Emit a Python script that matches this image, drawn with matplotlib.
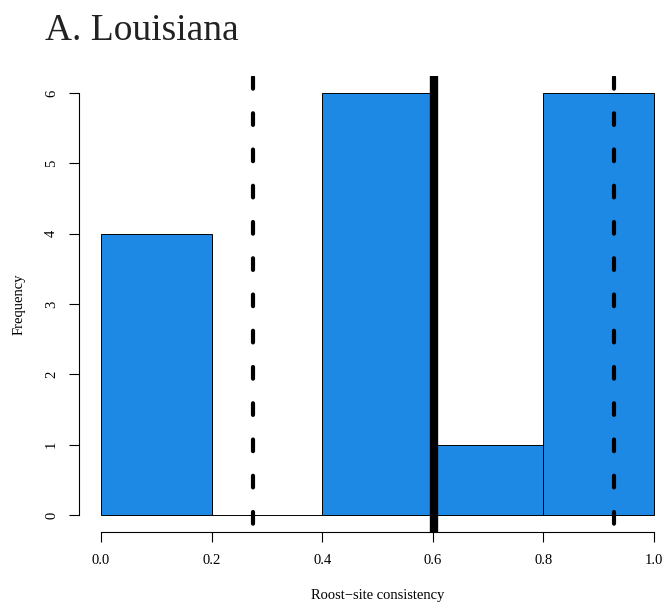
import matplotlib
matplotlib.use("Agg")
import matplotlib.pyplot as plt

# histogram of roost-site consistency, Louisiana
bin_edges = [0.0, 0.2, 0.4, 0.6, 0.8, 1.0]
counts = [4, 0, 6, 1, 6]
ci_lines = [0.274, 0.928]   # dashed
mean_line = 0.602           # solid
x_ticks = [0.0, 0.2, 0.4, 0.6, 0.8, 1.0]
x_tick_labels = ["0.0", "0.2", "0.4", "0.6", "0.8", "1.0"]
y_ticks = [0, 1, 2, 3, 4, 5, 6]

plt.rcParams['font.family'] = ['Liberation Serif', 'DejaVu Serif']

fig = plt.figure(figsize=(6.67, 6.04), dpi=100)
ax = fig.add_axes([79 / 667, 72 / 604, 597 / 667, 456 / 604])

widths = [bin_edges[i + 1] - bin_edges[i] for i in range(len(counts))]
ax.bar(bin_edges[:-1], counts, width=widths, align='edge',
       color='#1E88E5', edgecolor='black', linewidth=0.7, zorder=2)

# dashed lines drawn top -> bottom so the dash pattern starts at the top
for x in ci_lines:
    ax.plot([x, x], [0.997, 0], transform=ax.get_xaxis_transform(),
            color='black', lw=3.0, ls=(0, (2.8, 5.9)),
            dash_capstyle='round', zorder=3)
ax.axvline(mean_line, color='black', lw=6.0, zorder=3)

ax.set_xlim(-0.04, 1.04)
ax.set_ylim(-0.24, 6.24)

# R-style axes
for s in ax.spines.values():
    s.set_visible(False)
ax.plot([0, 1], [-0.24, -0.24], color='black', lw=0.8, clip_on=False, zorder=4)
ax.plot([-0.04, -0.04], [0, 6], color='black', lw=0.8, clip_on=False, zorder=4)
ax.set_xticks(x_ticks)
ax.set_xticklabels(x_tick_labels)
ax.set_yticks(y_ticks)
ax.set_yticklabels([str(v) for v in y_ticks], rotation=90, va='center')
ax.tick_params(axis='both', length=7, width=0.8, labelsize=10.5)
ax.tick_params(axis='x', pad=9)
ax.tick_params(axis='y', pad=8)

ax.set_xlabel("Roost\u2212site consistency", fontsize=10.5, labelpad=16)
ax.set_ylabel("Frequency", fontsize=10.5, labelpad=14)

fig.text(45 / 667, 1 - 40 / 604, "A. Louisiana", fontsize=27,
         color='#222222', ha='left', va='baseline')

fig.savefig("out.png", dpi=100)
